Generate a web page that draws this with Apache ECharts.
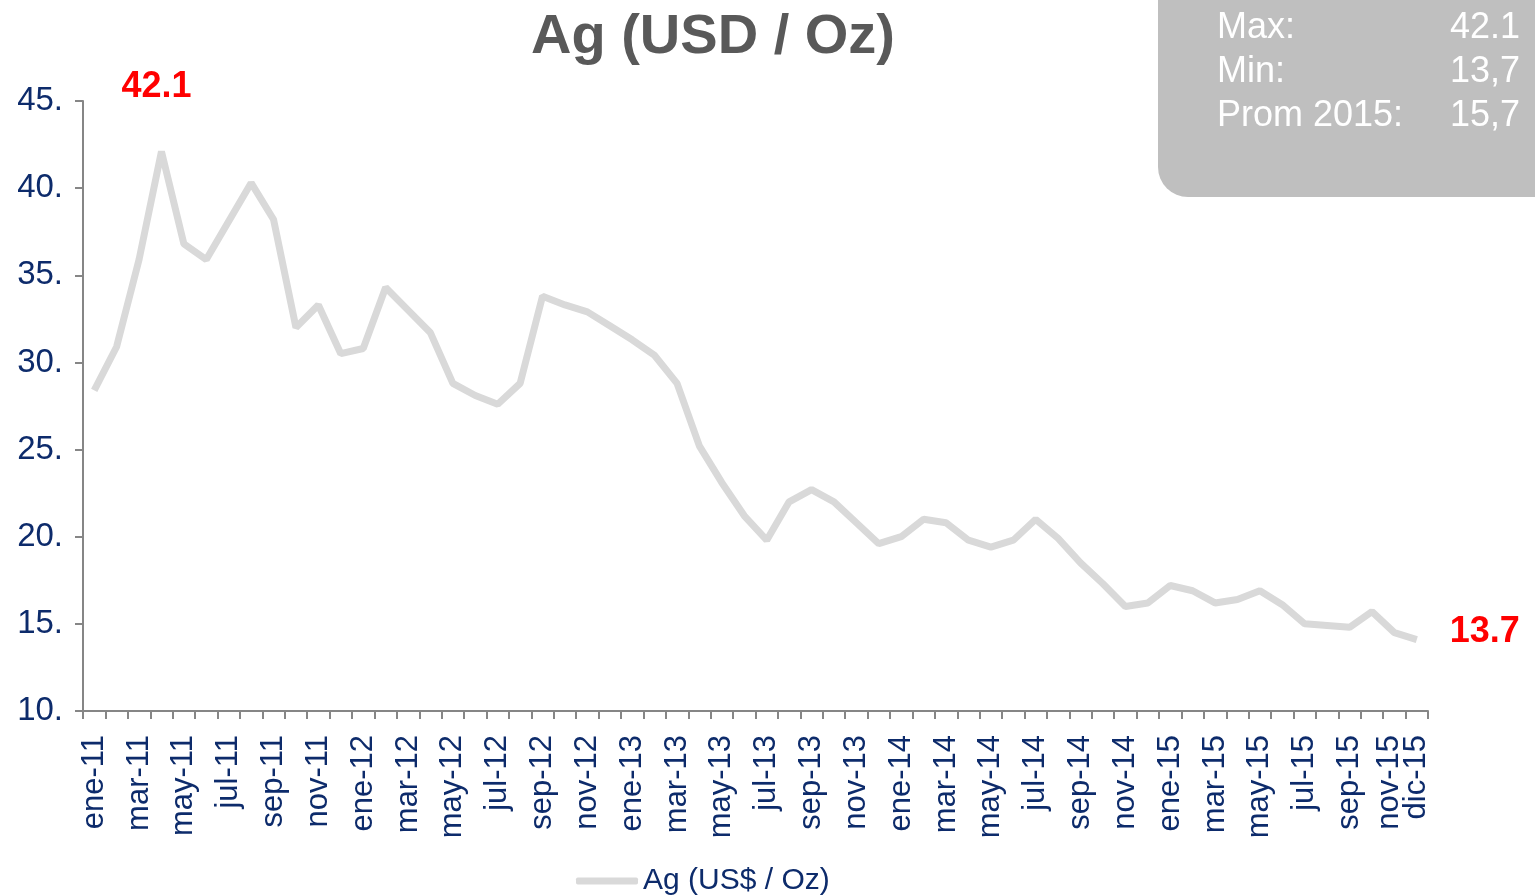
<!DOCTYPE html>
<html>
<head>
<meta charset="utf-8">
<script src="https://cdn.jsdelivr.net/npm/echarts@6/dist/echarts.min.js"></script>
<style>
  html, body { margin: 0; padding: 0; background: #fff; }
  #chart { width: 1535px; height: 896px; }
</style>
</head>
<body>
<div id="chart"></div>
<script>
// months ene-11 .. dic-15
const monthNames = ['ene', 'feb', 'mar', 'abr', 'may', 'jun', 'jul', 'ago', 'sep', 'oct', 'nov', 'dic']
const years = ['11', '12', '13', '14', '15']
const categories = []
years.forEach((y) => monthNames.forEach((m) => categories.push(m + '-' + y)))

// Ag price, USD / Oz
const agValues = [
  28.4, 30.9, 35.9, 42.1, 36.8, 35.9, 38.1, 40.3, 38.2, 32.0, 33.3, 30.5,
  30.8, 34.3, 33.0, 31.7, 28.8, 28.1, 27.6, 28.8, 33.8, 33.3, 32.9, 32.1,
  31.3, 30.4, 28.8, 25.2, 23.1, 21.2, 19.8, 22.0, 22.7, 22.0, 20.8, 19.6,
  20.0, 21.0, 20.8, 19.8, 19.4, 19.8, 21.0, 19.9, 18.5, 17.3, 16.0, 16.2,
  17.2, 16.9, 16.2, 16.4, 16.9, 16.1, 15.0, 14.9, 14.8, 15.7, 14.5, 14.1
]

const yTicks = [10, 15, 20, 25, 30, 35, 40, 45]

// stats box rows
const statLabels = ['Max:', 'Min:', 'Prom 2015:']
const statValues = ['42.1', '13,7', '15,7']

// annotated points
const maxLabel = '42.1'
const minLabel = '13.7'

const navy = '#0d2b6b'
const font = "'Liberation Sans', Arial, sans-serif"

const maxIdx = agValues.indexOf(Math.max(...agValues))
const lastIdx = agValues.length - 1

const seriesData = agValues.map((v, i) => {
  if (i === maxIdx) {
    return {
      value: v,
      label: {
        show: true, position: 'top', distance: 46, offset: [-5, 0],
        formatter: maxLabel, color: '#ff0000', fontSize: 36, fontWeight: 'bold', fontFamily: font
      }
    }
  }
  if (i === lastIdx) {
    return {
      value: v,
      label: {
        show: true, position: 'right', distance: 33, offset: [0, -7],
        formatter: minLabel, color: '#ff0000', fontSize: 36, fontWeight: 'bold', fontFamily: font
      }
    }
  }
  return v
})

const statGraphics = []
statLabels.forEach((t, i) => {
  statGraphics.push({
    type: 'text', left: 1217, top: 10 + i * 44,
    style: { text: t, fill: '#ffffff', font: '36px ' + font }
  })
  statGraphics.push({
    type: 'text', right: 15, top: 10 + i * 44,
    style: { text: statValues[i], fill: '#ffffff', font: '36px ' + font, textAlign: 'right' }
  })
})

const labelStyle = {
  rotate: 90,
  margin: 24,
  color: navy,
  fontSize: 31,
  fontFamily: font,
  hideOverlap: false
}

const chart = echarts.init(document.getElementById('chart'))
chart.setOption({
  backgroundColor: '#ffffff',
  animation: false,
  title: {
    text: 'Ag (USD / Oz)',
    left: 708,
    top: 5,
    textAlign: 'center',
    textStyle: { color: '#595959', fontSize: 56, fontWeight: 'bold', fontFamily: font }
  },
  legend: {
    left: 571,
    top: 861,
    icon: 'roundRect',
    itemWidth: 62,
    itemHeight: 7,
    itemGap: 8,
    textStyle: { color: navy, fontSize: 30, fontFamily: font },
    data: ['Ag (US$ / Oz)']
  },
  grid: { left: 83, right: 107, top: 101, bottom: 185 },
  xAxis: [
    {
      type: 'category',
      data: categories,
      boundaryGap: true,
      axisLine: { lineStyle: { color: '#868686', width: 2 } },
      axisTick: { show: true, interval: 0, length: 8, lineStyle: { color: '#868686', width: 2 } },
      axisLabel: {
        ...labelStyle,
        interval: (idx) => idx % 2 === 0,
        // nudge the second-last label away from dic-15
        formatter: (value, idx) => (idx === categories.length - 2 ? '{s|' + value + '}' : value),
        rich: {
          s: { color: navy, fontSize: 31, fontFamily: font, padding: [0, 0, 10, 0] }
        }
      }
    },
    {
      // second layer only for the last month label (dic-15)
      type: 'category',
      data: categories,
      position: 'bottom',
      boundaryGap: true,
      axisLine: { show: false },
      axisTick: { show: false },
      axisLabel: {
        ...labelStyle,
        showMaxLabel: true,
        padding: [6, 0, 0, 0],
        interval: (idx) => idx === categories.length - 1
      }
    }
  ],
  yAxis: {
    type: 'value',
    min: yTicks[0],
    max: yTicks[yTicks.length - 1],
    interval: 5,
    axisLine: { show: true, lineStyle: { color: '#868686', width: 2 } },
    axisTick: { show: true, length: 8, lineStyle: { color: '#868686', width: 2 } },
    splitLine: { show: false },
    axisLabel: {
      margin: 20,
      color: navy,
      fontSize: 33,
      fontFamily: font,
      formatter: (v) => v + '.'
    }
  },
  series: [
    {
      name: 'Ag (US$ / Oz)',
      type: 'line',
      xAxisIndex: 0,
      data: seriesData,
      showSymbol: true,
      symbol: 'circle',
      symbolSize: 0.01,
      color: '#d9d9d9',
      lineStyle: { color: '#d9d9d9', width: 7 },
      itemStyle: { color: '#d9d9d9' }
    }
  ],
  graphic: [
    {
      type: 'rect',
      left: 1158, top: 0,
      shape: { width: 377, height: 197, r: [0, 0, 0, 30] },
      style: { fill: '#bfbfbf' }
    },
    ...statGraphics
  ]
})
</script>
</body>
</html>
